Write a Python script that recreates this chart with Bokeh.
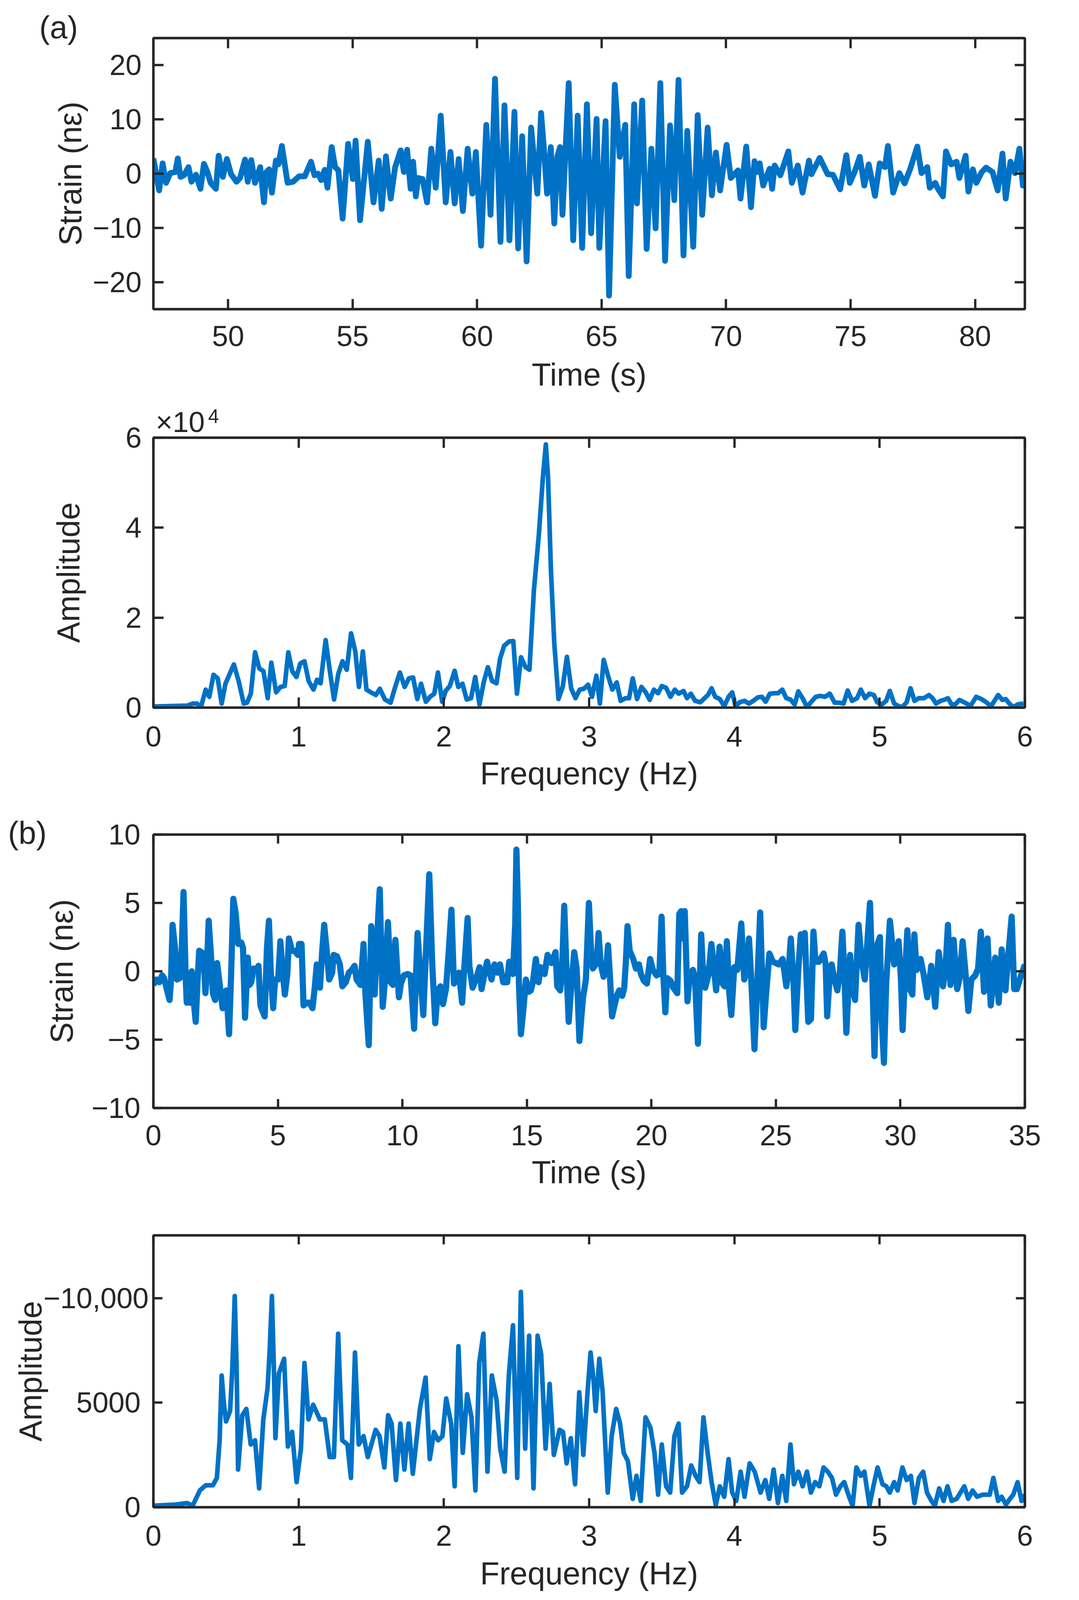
from bokeh.plotting import figure
from bokeh.layouts import column
from bokeh.models import LinearAxis, FixedTicker, Range1d, CustomJSTickFormatter, Title
from bokeh.embed import file_html
from bokeh.resources import INLINE

# (a) time history
a_time = [47.00, 47.23, 47.37, 47.51, 47.68, 47.88, 47.98, 48.09, 48.23, 48.41, 48.53, 48.71,
          48.89, 49.03, 49.17, 49.30, 49.51, 49.62, 49.79, 49.95, 50.12, 50.34, 50.48, 50.68,
          50.79, 50.93, 51.08, 51.29, 51.44, 51.54, 51.65, 51.76, 51.92, 52.02, 52.16, 52.39,
          52.61, 52.85, 53.08, 53.33, 53.47, 53.61, 53.74, 53.88, 53.99, 54.16, 54.30, 54.43,
          54.60, 54.82, 55.01, 55.12, 55.30, 55.61, 55.84, 56.05, 56.17, 56.34, 56.53, 56.71,
          56.93, 57.06, 57.19, 57.33, 57.43, 57.54, 57.63, 57.81, 57.99, 58.16, 58.34, 58.54,
          58.74, 58.93, 59.10, 59.26, 59.43, 59.62, 59.81, 59.95, 60.16, 60.37, 60.54, 60.72,
          60.94, 61.10, 61.30, 61.50, 61.65, 61.81, 61.99, 62.17, 62.42, 62.57, 62.68, 62.81,
          62.96, 63.10, 63.22, 63.33, 63.43, 63.55, 63.68, 63.86, 64.04, 64.22, 64.41, 64.58,
          64.80, 64.91, 65.16, 65.30, 65.53, 65.73, 65.95, 66.09, 66.31, 66.42, 66.63, 66.81,
          67.00, 67.17, 67.36, 67.55, 67.75, 67.92, 68.09, 68.29, 68.44, 68.68, 68.86, 69.04,
          69.26, 69.43, 69.59, 69.76, 70.02, 70.19, 70.48, 70.58, 70.81, 71.00, 71.14, 71.24,
          71.35, 71.49, 71.75, 71.85, 71.95, 72.18, 72.50, 72.64, 72.88, 73.07, 73.33, 73.43,
          73.76, 74.08, 74.29, 74.58, 74.83, 74.97, 75.16, 75.37, 75.55, 75.73, 75.98, 76.17,
          76.38, 76.50, 76.71, 76.96, 77.17, 77.39, 77.68, 77.85, 78.08, 78.18, 78.40, 78.51,
          78.71, 78.83, 79.04, 79.26, 79.37, 79.62, 79.73, 79.91, 80.05, 80.27, 80.44, 80.70,
          80.91, 81.10, 81.23, 81.42, 81.60, 81.78, 81.92, 82.00]
a_strain = [2.8, -3.1, 1.9, -1.7, 0.1, 0.3, 2.8, -0.6, -0.3, 1.2, -1.5, -0.2,
            -2.8, 1.8, 0.3, -1.7, -2.8, 3.3, -0.6, 2.7, -0.1, -1.5, -0.8, 2.6,
            -1.5, 2.5, -1.7, 1.2, -5.3, 0.3, 0.8, -3.5, 2.4, 1.7, 5.1, -1.7,
            -1.5, -0.5, -0.5, 2.2, -0.3, 0.0, -1.2, 0.7, -2.6, 4.9, 1.2, 0.6,
            -8.3, 5.5, -1.0, 6.1, -8.6, 5.9, -5.3, 2.4, -6.5, 3.2, -4.6, 1.2,
            4.3, 0.3, 4.4, -2.8, 2.2, -4.2, -0.8, -1.0, -5.3, 4.6, -2.6, 10.7,
            -5.3, 4.0, -5.5, 2.7, -6.9, 4.6, -3.7, 4.0, -13.3, 9.0, -7.6, 17.5,
            -12.6, 12.6, -12.3, 11.4, -13.8, 6.9, -16.2, 8.5, -3.7, 11.2, 4.9, -3.7,
            4.9, -9.2, 3.1, 4.9, -7.6, 4.2, 16.7, -12.3, 10.7, -13.7, 12.8, -11.0,
            10.1, -13.7, 9.7, -22.5, 16.4, 3.1, 9.0, -18.9, 12.8, -5.5, 13.5, -13.9,
            4.6, -10.1, 16.7, -16.1, 8.9, -4.9, 17.3, -15.1, 7.9, -13.5, 10.8, -7.6,
            8.5, -4.0, 3.9, -3.1, 5.3, -0.8, 0.6, -4.6, 5.0, -6.2, 2.3, 0.3,
            1.9, -2.2, 0.9, -2.8, 1.5, -0.3, 4.1, -1.7, 1.5, -3.5, 2.4, -0.1,
            2.9, -0.1, -0.2, -2.9, 3.4, -1.7, 0.3, 3.1, -2.2, 1.7, -4.1, 1.9,
            1.2, 5.1, -3.5, 0.1, -1.8, 0.8, 5.0, 0.1, 1.2, -2.6, -1.7, -2.8,
            -4.2, 4.1, 1.7, 2.2, -0.8, 3.3, -3.3, 0.8, -1.7, 0.3, 1.1, 0.3,
            -3.1, 3.7, -4.6, 2.2, 0.1, 4.6, -2.2, 0.1]

# (a) spectrum
a_freq = [0.0, 0.233, 0.272, 0.301, 0.327, 0.36, 0.385, 0.414, 0.443, 0.47, 0.496, 0.554,
          0.587, 0.622, 0.645, 0.671, 0.70, 0.729, 0.758, 0.787, 0.812, 0.845, 0.875, 0.904,
          0.929, 0.956, 0.985, 1.011, 1.04, 1.069, 1.102, 1.127, 1.151, 1.186, 1.215, 1.244,
          1.273, 1.302, 1.331, 1.361, 1.39, 1.415, 1.442, 1.467, 1.497, 1.532, 1.559, 1.594,
          1.633, 1.662, 1.697, 1.73, 1.759, 1.788, 1.817, 1.843, 1.876, 1.905, 1.934, 1.959,
          1.988, 2.012, 2.041, 2.074, 2.099, 2.128, 2.157, 2.187, 2.216, 2.245, 2.274, 2.303,
          2.332, 2.362, 2.387, 2.414, 2.449, 2.478, 2.503, 2.531, 2.562, 2.589, 2.62, 2.653,
          2.682, 2.702, 2.717, 2.737, 2.76, 2.789, 2.818, 2.847, 2.877, 2.906, 2.935, 2.964,
          2.993, 3.02, 3.05, 3.074, 3.10, 3.13, 3.16, 3.19, 3.217, 3.25, 3.275, 3.30,
          3.33, 3.36, 3.39, 3.417, 3.446, 3.475, 3.50, 3.53, 3.56, 3.59, 3.616, 3.65,
          3.674, 3.70, 3.73, 3.766, 3.795, 3.818, 3.843, 3.868, 3.90, 3.93, 3.96, 3.985,
          4.008, 4.037, 4.07, 4.10, 4.13, 4.163, 4.19, 4.215, 4.244, 4.275, 4.30, 4.33,
          4.357, 4.386, 4.415, 4.44, 4.473, 4.50, 4.53, 4.56, 4.59, 4.624, 4.657, 4.69,
          4.72, 4.752, 4.78, 4.81, 4.845, 4.87, 4.90, 4.93, 4.96, 4.983, 5.015, 5.045,
          5.07, 5.10, 5.127, 5.155, 5.186, 5.213, 5.24, 5.27, 5.306, 5.34, 5.364, 5.388,
          5.42, 5.45, 5.47, 5.496, 5.52, 5.55, 5.587, 5.626, 5.665, 5.70, 5.73, 5.767,
          5.816, 5.845, 5.868, 5.893, 5.92, 5.95, 5.99]
a_amp = [250, 440, 900, 900, 60, 4000, 2400, 7300, 6500, 900, 5300, 9600,
         5900, 900, 1100, 3100, 12300, 8700, 8100, 2100, 10000, 3400, 4600, 4800,
         12300, 8100, 6800, 9800, 10300, 5900, 4000, 6200, 5400, 15000, 8100, 1800,
         7500, 10300, 8400, 16500, 12500, 4600, 12500, 4000, 3400, 2800, 4200, 1800,
         1100, 4300, 7800, 4600, 6500, 6700, 1900, 5300, 1300, 2400, 3100, 7800,
         1300, 3700, 4800, 8200, 4600, 5300, 1800, 2100, 6800, 700, 5600, 9000,
         5900, 5400, 10900, 13700, 14700, 14800, 3100, 11200, 9000, 8400, 26200, 38100,
         51300, 58500, 51300, 30600, 14300, 1900, 4600, 11300, 4200, 2100, 4000, 4200,
         5100, 2400, 7100, 900, 10600, 7100, 4000, 5600, 1500, 2100, 2100, 6500,
         1900, 4600, 3400, 1700, 4000, 3200, 4800, 4400, 2400, 4000, 3100, 3700,
         2100, 3100, 1500, 1200, 2100, 2800, 4300, 2400, 1900, 300, 2400, 3400,
         300, 1200, 1500, 900, 1500, 2300, 2400, 1300, 3100, 3200, 3200, 4000,
         2100, 1800, 700, 3600, 1900, 100, 1300, 2400, 2600, 2400, 3100, 1100,
         1100, 900, 3800, 1500, 2100, 4000, 2100, 3100, 2800, 1200, 700, 1500,
         3700, 900, 400, 100, 1200, 4300, 1500, 2100, 2100, 2800, 2100, 900,
         1500, 1800, 2100, 700, 700, 1700, 1100, 400, 2400, 1900, 1300, 300,
         2800, 1700, 1900, 900, 100, 700, 900]

# (b) time history
b_time = [0.00, 0.12, 0.24, 0.35, 0.43, 0.55, 0.65, 0.71, 0.77, 0.87, 0.95, 1.06,
          1.12, 1.21, 1.30, 1.34, 1.42, 1.48, 1.54, 1.62, 1.70, 1.78, 1.84, 1.93,
          2.01, 2.09, 2.13, 2.22, 2.33, 2.39, 2.48, 2.56, 2.68, 2.78, 2.86, 2.93,
          3.04, 3.12, 3.21, 3.30, 3.41, 3.53, 3.60, 3.68, 3.79, 3.86, 3.93, 4.02,
          4.14, 4.22, 4.30, 4.38, 4.47, 4.56, 4.64, 4.72, 4.81, 4.89, 5.01, 5.10,
          5.20, 5.28, 5.38, 5.44, 5.50, 5.56, 5.68, 5.80, 5.85, 5.95, 6.03, 6.15,
          6.27, 6.39, 6.48, 6.56, 6.69, 6.78, 6.86, 6.95, 7.06, 7.18, 7.24, 7.37,
          7.49, 7.59, 7.73, 7.85, 7.97, 8.08, 8.16, 8.32, 8.44, 8.52, 8.65, 8.75,
          8.83, 8.89, 8.97, 9.09, 9.21, 9.31, 9.42, 9.53, 9.62, 9.72, 9.86, 9.94,
          10.06, 10.21, 10.33, 10.47, 10.61, 10.73, 10.84, 10.96, 11.08, 11.20, 11.32, 11.42,
          11.53, 11.63, 11.75, 11.87, 11.97, 12.07, 12.16, 12.27, 12.40, 12.48, 12.62, 12.69,
          12.82, 12.95, 13.10, 13.18, 13.40, 13.58, 13.70, 13.82, 13.92, 14.05, 14.21, 14.29,
          14.44, 14.53, 14.58, 14.64, 14.68, 14.76, 14.87, 14.96, 15.08, 15.16, 15.24, 15.36,
          15.47, 15.55, 15.71, 15.83, 15.99, 16.15, 16.22, 16.34, 16.42, 16.50, 16.58, 16.68,
          16.78, 16.90, 17.00, 17.11, 17.25, 17.37, 17.49, 17.59, 17.65, 17.80, 17.88, 17.96,
          18.08, 18.18, 18.26, 18.34, 18.42, 18.53, 18.63, 18.71, 18.83, 18.91, 18.97, 19.04,
          19.13, 19.27, 19.38, 19.50, 19.58, 19.70, 19.82, 19.95, 20.06, 20.21, 20.32, 20.41,
          20.48, 20.56, 20.63, 20.77, 20.88, 21.04, 21.12, 21.20, 21.26, 21.34, 21.45, 21.55,
          21.67, 21.75, 21.87, 22.00, 22.06, 22.16, 22.29, 22.41, 22.50, 22.60, 22.74, 22.86,
          22.94, 23.03, 23.13, 23.21, 23.33, 23.45, 23.61, 23.73, 23.82, 23.92, 24.00, 24.14,
          24.24, 24.37, 24.51, 24.61, 24.74, 24.88, 25.12, 25.27, 25.42, 25.51, 25.60, 25.71,
          25.78, 25.90, 26.00, 26.10, 26.16, 26.30, 26.41, 26.51, 26.59, 26.73, 26.92, 27.00,
          27.06, 27.16, 27.24, 27.35, 27.47, 27.57, 27.67, 27.75, 27.83, 27.98, 28.08, 28.18,
          28.32, 28.44, 28.57, 28.67, 28.78, 28.87, 28.96, 29.08, 29.18, 29.24, 29.34, 29.43,
          29.58, 29.69, 29.75, 29.83, 29.93, 30.02, 30.09, 30.18, 30.28, 30.38, 30.48, 30.56,
          30.65, 30.81, 30.93, 31.08, 31.24, 31.32, 31.40, 31.54, 31.63, 31.71, 31.81, 31.91,
          32.01, 32.14, 32.28, 32.38, 32.50, 32.61, 32.73, 32.85, 33.01, 33.12, 33.23, 33.36,
          33.50, 33.63, 33.75, 33.81, 33.95, 34.07, 34.22, 34.34, 34.47, 34.57, 34.68, 34.81,
          35.00]
b_strain = [-1.0, -0.6, -0.8, -0.3, -0.5, -1.4, -2.1, -0.6, 3.4, 1.7, -0.6, -0.5,
            0.5, 5.8, -0.6, -2.3, -1.5, -2.3, 0.0, -2.2, -3.7, -0.5, 1.5, 1.4,
            1.3, -1.6, -0.6, 3.7, 0.7, -1.6, -2.1, 0.6, -1.2, -2.7, -2.6, -1.4,
            -4.6, -0.3, 5.3, 4.3, 2.0, 2.1, 1.7, -3.4, 1.0, -1.0, -0.8, 0.2,
            0.1, 0.4, -2.5, -2.9, -3.3, 1.7, 3.7, -0.3, -2.7, -0.6, -0.6, 2.2,
            -0.2, -1.7, -0.2, 2.4, 2.0, 1.5, 1.5, 1.2, 2.0, 2.0, -2.5, -2.3,
            -2.3, -2.7, -1.2, 0.5, -1.2, 1.5, 3.4, 1.7, -0.6, -0.1, 1.2, 1.1,
            0.5, -1.1, -0.8, -0.1, 0.1, 0.4, -0.6, -1.0, 2.0, -1.8, -5.4, 3.3,
            0.1, -1.7, 2.0, 6.0, -2.6, -0.5, 3.6, -0.8, -1.0, 2.3, -1.9, -0.9,
            -0.3, -0.2, -0.3, -4.2, 2.8, -0.5, -3.2, 2.0, 7.1, 0.5, -3.8, -1.4,
            -1.1, -2.4, -1.3, 1.7, 4.5, -0.9, -0.6, -0.1, -2.3, 0.1, 3.9, 0.4,
            -1.2, -0.6, 0.3, -1.3, 0.7, -0.6, 0.5, -0.1, 0.5, -0.8, -0.8, 0.7,
            -0.2, 3.4, 8.9, 4.8, -0.9, -4.6, -2.6, -0.6, -1.5, -1.4, -0.8, 0.9,
            -0.8, 0.3, -0.2, 1.2, 0.6, 1.4, -1.1, -1.4, 0.5, 4.8, 0.6, -3.7,
            -1.2, 1.4, 0.2, -5.1, -2.0, -0.6, 5.0, 1.0, 0.2, 0.6, 2.8, 0.6,
            -0.4, 0.1, 1.9, -0.5, -3.3, -2.4, -1.7, -1.4, -1.8, -1.2, 0.5, 3.3,
            1.5, 0.9, 0.2, 0.5, -0.2, -0.7, -0.9, 0.9, 0.1, -0.3, -0.2, 4.0,
            -0.3, -3.0, -0.5, -0.7, -1.2, -1.6, 4.2, 4.4, 2.4, 4.4, -2.2, -0.1,
            0.1, -0.5, -5.3, 2.7, 0.5, -1.2, -0.3, 2.0, 0.5, -1.4, 1.8, -0.9,
            -1.1, 2.2, -1.6, -3.2, 0.3, 0.1, 3.5, -0.6, -0.1, 2.4, -0.2, -5.7,
            -1.5, 4.3, -4.1, -1.6, 1.3, 0.7, 0.5, 0.9, -1.1, 0.1, 2.4, -0.9,
            -4.3, 0.1, 2.7, 2.0, 2.8, -3.7, -3.5, 2.9, 0.7, 0.7, 1.3, 0.5,
            -3.3, -0.3, 0.5, -0.6, -1.4, -0.1, 2.9, -0.1, -4.5, 1.2, -1.2, -2.1,
            3.4, 0.8, -0.6, 2.0, 5.0, -0.2, -6.2, 2.0, 2.5, -3.2, -6.7, -0.9,
            3.7, 1.7, 0.5, 1.1, 2.2, -0.5, -4.3, -0.5, 3.0, -1.3, -1.7, 2.7,
            0.1, 0.9, -0.2, -1.9, 0.4, -1.1, -2.6, 1.4, 0.1, -1.1, 0.2, 3.4,
            -1.0, 2.3, -1.3, -0.5, 2.2, 0.0, -2.9, -0.6, -0.3, 0.2, 2.9, -1.5,
            2.4, -2.5, -0.3, 1.0, -2.3, 1.6, -1.4, 1.3, 4.0, -1.3, -1.3, -0.5,
            0.5]

# (b) spectrum
b_freq = [0.0, 0.155, 0.233, 0.27, 0.32, 0.36, 0.41, 0.437, 0.456, 0.47, 0.485, 0.50,
          0.528, 0.544, 0.56, 0.573, 0.583, 0.612, 0.64, 0.67, 0.70, 0.728, 0.757, 0.786,
          0.80, 0.816, 0.83, 0.84, 0.864, 0.90, 0.926, 0.955, 0.986, 1.016, 1.04, 1.068,
          1.10, 1.146, 1.18, 1.214, 1.243, 1.272, 1.30, 1.336, 1.36, 1.388, 1.414, 1.447,
          1.476, 1.53, 1.557, 1.59, 1.616, 1.64, 1.67, 1.70, 1.728, 1.757, 1.786, 1.835,
          1.874, 1.903, 1.932, 1.96, 1.99, 2.016, 2.05, 2.074, 2.10, 2.13, 2.16, 2.19,
          2.217, 2.243, 2.272, 2.30, 2.33, 2.363, 2.388, 2.418, 2.447, 2.476, 2.505, 2.53,
          2.56, 2.587, 2.617, 2.645, 2.67, 2.70, 2.728, 2.757, 2.796, 2.82, 2.845, 2.874,
          2.903, 2.932, 2.96, 2.99, 3.01, 3.03, 3.045, 3.07, 3.093, 3.128, 3.155, 3.186,
          3.213, 3.238, 3.267, 3.30, 3.326, 3.355, 3.388, 3.422, 3.45, 3.475, 3.50, 3.53,
          3.558, 3.587, 3.616, 3.64, 3.674, 3.703, 3.733, 3.76, 3.787, 3.814, 3.843, 3.872,
          3.90, 3.93, 3.96, 3.985, 4.013, 4.043, 4.07, 4.105, 4.14, 4.18, 4.213, 4.24,
          4.27, 4.30, 4.33, 4.357, 4.386, 4.41, 4.44, 4.47, 4.50, 4.527, 4.556, 4.585,
          4.614, 4.643, 4.672, 4.70, 4.73, 4.756, 4.79, 4.814, 4.84, 4.87, 4.895, 4.93,
          4.957, 4.986, 5.02, 5.046, 5.07, 5.10, 5.124, 5.157, 5.186, 5.215, 5.24, 5.27,
          5.30, 5.326, 5.357, 5.38, 5.41, 5.44, 5.467, 5.496, 5.53, 5.583, 5.61, 5.64,
          5.67, 5.71, 5.758, 5.783, 5.816, 5.84, 5.87, 5.897, 5.92, 5.95, 5.977, 6.0]
b_amp = [70, 130, 200, 70, 800, 1050, 1050, 1400, 3200, 6300, 5000, 4100,
         4600, 6700, 10100, 6700, 1800, 4400, 4700, 3000, 3200, 900, 4200, 5700,
         7400, 10100, 6500, 3300, 6400, 7100, 2900, 3600, 1200, 2800, 6900, 4200,
         4900, 4200, 4200, 2400, 2400, 8300, 3200, 3000, 1400, 7400, 3000, 3400,
         2400, 3700, 3400, 1900, 4400, 4000, 1300, 4000, 1800, 4000, 1600, 4700,
         6200, 2300, 3600, 3200, 3400, 5200, 4000, 1000, 7700, 2600, 5400, 4300,
         800, 6900, 8300, 1700, 6300, 5100, 2800, 1700, 6300, 8700, 1400, 10300,
         2800, 8200, 900, 8200, 7300, 2800, 5900, 2500, 3700, 3600, 2100, 3300,
         1100, 5500, 2500, 5600, 7400, 6100, 4600, 7100, 5500, 700, 3400, 4700,
         4000, 2600, 2200, 400, 1500, 300, 4300, 3800, 2600, 600, 3000, 1000,
         700, 3400, 4000, 700, 1000, 2000, 1500, 1200, 4300, 2700, 1200, 100,
         1000, 500, 2300, 700, 300, 1700, 500, 2100, 1700, 700, 1300, 400,
         1800, 200, 1500, 300, 3000, 1100, 1700, 1000, 1700, 700, 1200, 1000,
         1900, 1700, 1400, 600, 1000, 1200, 500, 70, 1900, 1500, 1700, 70,
         1000, 1900, 1100, 1000, 700, 1200, 800, 1900, 1300, 1500, 200, 1400,
         1700, 700, 300, 70, 900, 300, 1000, 300, 400, 1000, 400, 800,
         500, 600, 600, 1400, 300, 500, 130, 400, 600, 1200, 300, 600]

# ticks
a_time_ticks = [50, 55, 60, 65, 70, 75, 80]
a_strain_ticks = [-20, -10, 0, 10, 20]
a_amp_ticks = [0, 20000, 40000, 60000]
a_amp_labels = {0: "0", 20000: "2", 40000: "4", 60000: "6"}
freq_ticks = [0, 1, 2, 3, 4, 5, 6]
b_time_ticks = [0, 5, 10, 15, 20, 25, 30, 35]
b_strain_ticks = [-10, -5, 0, 5, 10]
b_amp_ticks = [0, 5000, 10000]
b_amp_labels = {0: "0\u00a0", 5000: "5000\u00a0", 10000: "\u221210,000"}

FONT = "Liberation Sans"
INK = "#262626"
BLUE = "#0072C6"

# the screenshot comes out slightly enlarged and shifted, so the layout is
# written in reference pixels and mapped back with these factors
MX, MY = 1.012, 1.016
DY = 7
MS = 1.014
MARGIN = 8
W = round(2730 / MX) - MARGIN


def s(v):
    return round(v / MS, 1)


def px(v):
    return f"{round(v / MS)}px"


def ypos(v):
    return round((v + DY) / MY)


def minus_labels(ticks):
    return {t: "\u2212" + str(-t) for t in ticks if t < 0}


def style_axis(ax, tick_len):
    ax.axis_line_color = INK
    ax.axis_line_width = s(6)
    ax.major_tick_line_color = INK
    ax.major_tick_line_width = s(6)
    ax.major_tick_in = round(tick_len / MS)
    ax.major_tick_out = 0
    ax.minor_tick_line_color = None
    ax.major_label_text_font = FONT
    ax.major_label_text_font_size = px(75)
    ax.major_label_text_color = INK
    ax.axis_label_text_font = FONT
    ax.axis_label_text_font_size = px(82)
    ax.axis_label_text_font_style = "normal"
    ax.axis_label_text_color = INK


def panel(fig_y, frame_y, frame_x, xr, yr, xticks, yticks, xlabel, ylabel, tick_len,
          x_std, y_std, xl_std, yl_std):
    # fig_y / frame_y / frame_x are edges in reference pixels
    t = MARGIN if fig_y[0] is None else ypos(fig_y[0])
    b = ypos(fig_y[1])
    ft, fb = ypos(frame_y[0]), ypos(frame_y[1])
    fl, fr = round(frame_x[0] / MX) - MARGIN, round(frame_x[1] / MX) - MARGIN
    p = figure(width=W, height=b - t, x_range=Range1d(*xr), y_range=Range1d(*yr),
               output_backend="svg", toolbar_location=None,
               min_border_top=ft - t, min_border_bottom=b - fb,
               min_border_left=fl, min_border_right=W - fr,
               x_axis_location=None, y_axis_location=None)
    p.grid.visible = False
    p.outline_line_color = INK
    p.outline_line_width = s(6)
    p.background_fill_color = "white"
    p.border_fill_color = "white"

    xb = LinearAxis(ticker=FixedTicker(ticks=xticks), axis_label=xlabel)
    style_axis(xb, tick_len)
    xb.major_label_standoff = round(x_std / MS)
    xb.axis_label_standoff = round(xl_std / MS)
    p.add_layout(xb, "below")

    yl = LinearAxis(ticker=FixedTicker(ticks=yticks), axis_label=ylabel)
    style_axis(yl, tick_len)
    yl.major_label_standoff = round(y_std / MS)
    yl.axis_label_standoff = round(yl_std / MS)
    p.add_layout(yl, "left")

    for side, tk in (("above", xticks), ("right", yticks)):
        ax = LinearAxis(ticker=FixedTicker(ticks=tk),
                        formatter=CustomJSTickFormatter(code="return ''"))
        style_axis(ax, tick_len)
        ax.major_label_text_font_size = "1px"
        ax.major_label_standoff = 0
        p.add_layout(ax, side)
    return p, xb, yl


def set_text(t, text, size, offset, standoff):
    t.text = text
    t.align = "left"
    t.offset = round(offset / MS)
    t.standoff = round(standoff / MS)
    t.vertical_align = "bottom"
    t.text_font = FONT
    t.text_font_size = px(size)
    t.text_font_style = "normal"
    t.text_color = INK
    t.text_line_height = 1.0


# (a) strain
pa1, xa1, ya1 = panel((None, 1040), (100, 805), (394, 2662), (47, 82), (-25, 25),
                      a_time_ticks, a_strain_ticks, "Time (s)", "Strain (n\u03b5)",
                      26, 44, 30, 25, 9)
ya1.major_label_overrides = minus_labels(a_strain_ticks)
pa1.line(a_time, a_strain, line_color=BLUE, line_width=s(15), line_join="round")
set_text(pa1.title, "(a)", 82, -296, -34)

# (a) amplitude, with the x10^4 multiplier over the top-left corner
pa2, xa2, ya2 = panel((1040, 2110), (1139, 1841), (394, 2662), (0, 6), (0, 60000),
                      freq_ticks, a_amp_ticks, "Frequency (Hz)", "Amplitude",
                      26, 49, 30, 21, 99)
ya2.major_label_overrides = a_amp_labels
pa2.line(a_freq, a_amp, line_color=BLUE, line_width=s(12), line_join="round")
mult = Title()
set_text(mult, "\u00d710", 75, 6, -2)
pa2.add_layout(mult, "above")
set_text(pa2.title, "4", 51, 142, -92)

# (b) strain
pb1, xb1, yb1 = panel((2110, 3140), (2171, 2882), (405, 2673), (0, 35), (-10, 10),
                      b_time_ticks, b_strain_ticks, "Time (s)", "Strain (n\u03b5)",
                      23, 45, 33, 21, 28)
yb1.major_label_overrides = minus_labels(b_strain_ticks)
pb1.line(b_time, b_strain, line_color=BLUE, line_width=s(16), line_join="round")
set_text(pb1.title, "(b)", 82, -377, -82)

# (b) amplitude
pb2, xb2, yb2 = panel((3140, 4150), (3214, 3921), (405, 2673), (0, 6), (0, 13000),
                      freq_ticks, b_amp_ticks, "Frequency (Hz)", "Amplitude",
                      23, 48, 12, 23, -15)
yb2.major_label_overrides = b_amp_labels
pb2.line(b_freq, b_amp, line_color=BLUE, line_width=s(12), line_join="round")

page = column(pa1, pa2, pb1, pb2, spacing=0)
open("out.html", "w").write(file_html(page, INLINE))
